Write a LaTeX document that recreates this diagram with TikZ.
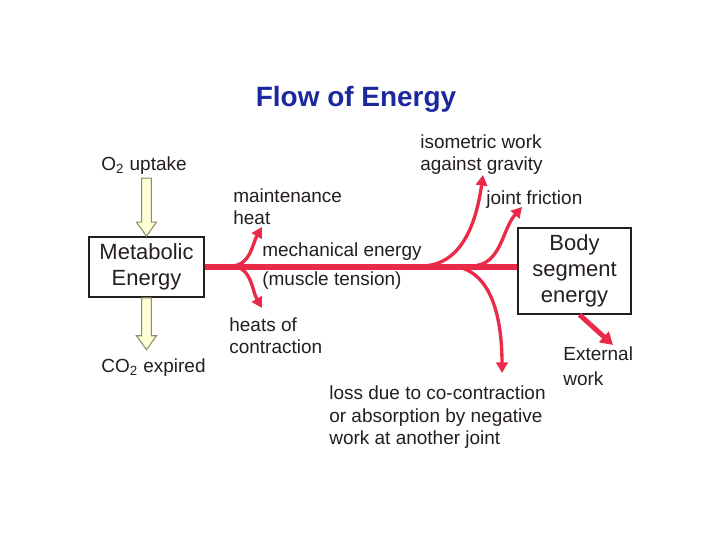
\documentclass[tikz,border=0pt]{standalone}
\usepackage{fontspec}
\setmainfont{Liberation Sans}
\usetikzlibrary{arrows.meta, positioning, calc}

\definecolor{flowred}{RGB}{234,42,72}
\definecolor{titleblue}{RGB}{28,40,158}
\definecolor{pale}{RGB}{255,255,214}
\definecolor{olive}{RGB}{140,140,104}
\definecolor{ink}{RGB}{36,30,28}

\tikzset{
  lbl/.style={anchor=west, align=left, inner sep=0pt, text=ink,
    font=\fontsize{10.8}{12.8}\selectfont},
  box/.style={draw=ink, line width=0.9pt, align=center, text=ink,
    font=\fontsize{12.5}{14.8}\selectfont},
  flow/.style={draw=flowred, line width=1.9pt, -{Triangle[length=6pt,width=6.5pt]}},
  bigflow/.style={draw=flowred, line width=2.8pt, -{Triangle[length=7pt,width=8pt]}},
  mainflow/.style={draw=flowred, line width=2.9pt},
  supply/.style={draw=olive, fill=pale, line width=0.6pt, line join=miter},
}

% fat outlined arrow between two points (x taken from the first)
\newcommand{\supplyarrow}[2]{%
  \path[supply] let \p1=(#1), \p2=(#2) in
    (\x1-2.8pt,\y1) -- (\x1+2.8pt,\y1) -- (\x1+2.8pt,\y2+8pt)
    -- (\x1+5.7pt,\y2+8pt) -- (\x1,\y2) -- (\x1-5.7pt,\y2+8pt)
    -- (\x1-2.8pt,\y2+8pt) -- cycle;}

\begin{document}
\begin{tikzpicture}[>=stealth]
    \useasboundingbox (0,0) rectangle (14.4,10.8);

    % Nodes
    \node (title) at (7.12,8.82) [text=titleblue, font=\fontsize{15.9}{18}\selectfont\bfseries] {Flow of Energy};
    \node (metab) at (2.93,5.46) [box, minimum width=2.3cm, minimum height=1.2cm] {Metabolic\\Energy};
    \node (body) at (11.49,5.38) [box, minimum width=2.26cm, minimum height=1.72cm] {Body\\segment\\energy};
    \node (o2) at (2.02,7.48) [lbl] {O\textsubscript{2} uptake};
    \node (co2) at (2.02,3.44) [lbl] {CO\textsubscript{2} expired};
    \node (maint) at (4.66,6.67) [lbl] {maintenance\\heat};
    \node (heats) at (4.58,4.09) [lbl] {heats of\\contraction};
    \node (mech) at (5.24,5.47) [lbl, font=\fontsize{10.8}{16.6}\selectfont] {mechanical energy\\(muscle tension)};
    \node (iso) at (8.4,7.71) [lbl] {isometric work\\against gravity};
    \node (fric) at (9.72,6.8) [lbl] {joint friction};
    \node (loss) at (6.58,2.45) [lbl] {loss due to co-contraction\\or absorption by negative\\work at another joint};
    \node (ext) at (11.26,3.47) [lbl, font=\fontsize{10.8}{14}\selectfont] {External\\work};

    % Branch points and arrow ends
    \coordinate (split) at (4.62,5.48);
    \coordinate (heattip) at (5.24,6.26);
    \coordinate (conttip) at (5.24,4.64);
    \coordinate (isosplit) at (8.42,5.48);
    \coordinate (isotip) at (9.66,7.3);
    \coordinate (fricsplit) at (9.42,5.48);
    \coordinate (frictip) at (10.44,6.66);
    \coordinate (losssplit) at (8.96,5.48);
    \coordinate (losstip) at (10.04,3.34);
    \coordinate (exttip) at (12.26,3.9);

    % Supply arrows
    \supplyarrow{$(o2.south -| metab.north)+(0,-0.06)$}{metab.north}
    \supplyarrow{metab.south}{$(co2.north -| metab.south)+(0,0.18)$}

    % Energy flow
    \draw[mainflow] (metab.east) -- (metab.east -| body.west);
    \draw[flow] (split) to[out=0, in=240] (heattip);
    \draw[flow] (split) to[out=0, in=120] (conttip);
    \draw[flow] (isosplit) to[out=0, in=262] (isotip);
    \draw[flow] (fricsplit) to[out=0, in=228] (frictip);
    \draw[flow] (losssplit) to[out=0, in=90] (losstip);
    \draw[bigflow] ($(body.south)+(0.1,0)$) -- (exttip);
\end{tikzpicture}
\end{document}
